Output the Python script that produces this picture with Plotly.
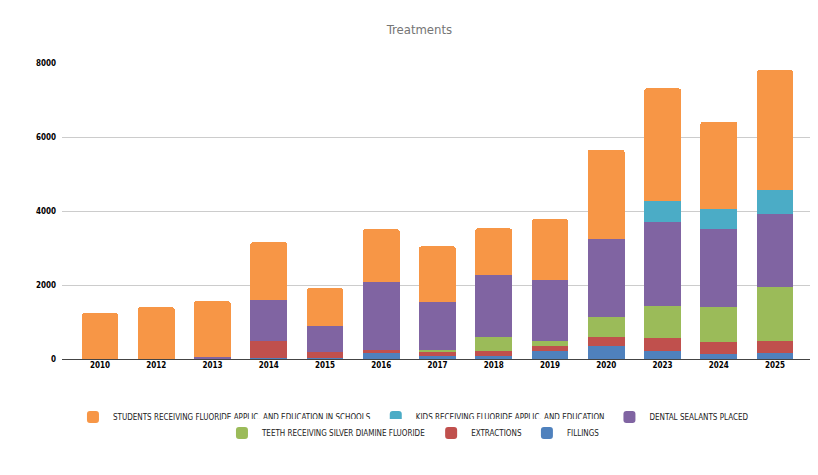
import plotly.graph_objects as go

# years on the x axis
years = ["2010", "2012", "2013", "2014", "2015", "2016", "2017",
         "2018", "2019", "2020", "2023", "2024", "2025"]

# values per series (bottom of stack first)
fillings = [0, 0, 0, 35, 40, 160, 80, 90, 215, 360, 215, 145, 160]
extractions = [0, 0, 0, 450, 150, 90, 110, 125, 135, 235, 350, 315, 325]
silver_diamine = [0, 0, 0, 0, 0, 0, 55, 380, 135, 540, 865, 945, 1460]
sealants = [0, 0, 55, 1110, 700, 1830, 1295, 1665, 1650, 2110, 2270, 2110, 1975]
kids_fluoride = [0, 0, 0, 0, 0, 0, 0, 0, 0, 0, 570, 540, 650]
students_fluoride = [1240, 1400, 1505, 1560, 1020, 1425, 1505, 1270, 1640, 2405, 3045, 2350, 3230]

y_ticks = [0, 2000, 4000, 6000, 8000]

FONT = "Liberation Sans Narrow, DejaVu Sans Condensed, sans-serif"

series = [
    ("FILLINGS", fillings, "#4f81bd", "legend2"),
    ("EXTRACTIONS", extractions, "#c0504d", "legend2"),
    ("TEETH RECEIVING SILVER DIAMINE FLUORIDE", silver_diamine, "#9bbb59", "legend2"),
    ("DENTAL SEALANTS PLACED", sealants, "#8064a2", "legend"),
    ("KIDS RECEIVING FLUORIDE APPLIC. AND EDUCATION", kids_fluoride, "#4bacc6", "legend"),
    ("STUDENTS RECEIVING FLUORIDE APPLIC. AND EDUCATION IN SCHOOLS", students_fluoride, "#f79646", "legend"),
]

fig = go.Figure()
for name, vals, color, leg in series:
    fig.add_trace(go.Bar(x=years, y=vals, name=name, marker_color=color,
                         marker_line_width=0, legend=leg))

# two legend rows, like the original (3 items each)
legend_style = dict(orientation="h", traceorder="reversed",
                    x=0.468, xanchor="center", yanchor="middle",
                    font=dict(family=FONT, size=8, color="#222222"),
                    itemclick=False, itemdoubleclick=False)

tick_font = dict(family=FONT, size=8, color="#000000", weight="bold")

fig.update_layout(
    barmode="stack",
    bargap=0.35,
    barcornerradius=2,
    width=818, height=475,
    # the page puts the figure 8px in from the top-left corner
    margin=dict(l=54, r=13, t=55, b=124, autoexpand=False),
    paper_bgcolor="white", plot_bgcolor="white",
    title=dict(text="Treatments", xref="paper", x=0.476, xanchor="center",
               y=0.954, yanchor="middle",
               font=dict(family=FONT, size=13, color="#757575")),
    legend=dict(y=-0.196, **legend_style),
    legend2=dict(y=-0.25, **legend_style),
    xaxis=dict(type="category", range=[-0.675, 12.675], showgrid=False,
               tickfont=tick_font, tickangle=0, ticks="", showline=False),
    yaxis=dict(range=[0, 8000], tickvals=y_ticks, tickformat="d",
               gridcolor="#cccccc", gridwidth=1,
               zeroline=True, zerolinecolor="#444444", zerolinewidth=1,
               tickfont=tick_font, ticks="", ticklabelstandoff=5),
)

fig.write_html("out.html")
